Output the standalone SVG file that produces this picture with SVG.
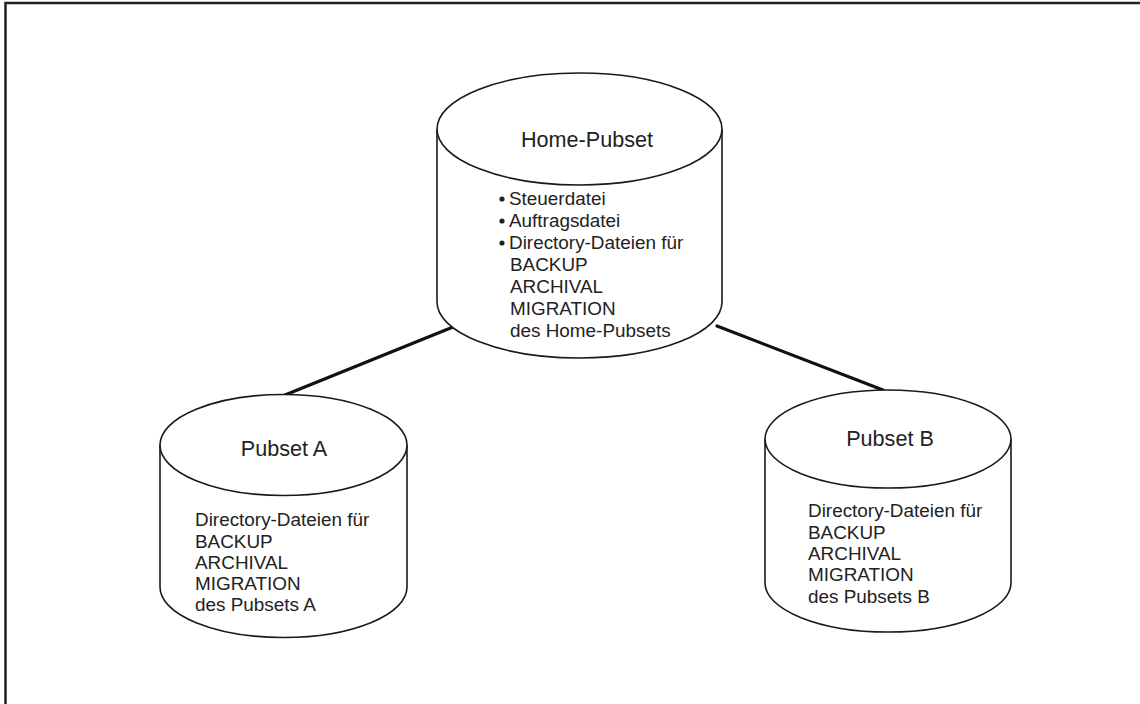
<svg xmlns="http://www.w3.org/2000/svg" width="1140" height="704" viewBox="0 0 1140 704">
  <style>
    .frame { fill: #fff; stroke: #222; stroke-width: 2.5; }
    .disk { fill: #fff; stroke: #1a1a1a; stroke-width: 1.6; }
    .link { stroke: #111; stroke-width: 3.2; stroke-linecap: round; fill: none; }
    .title { font-family: "Liberation Sans", Arial, sans-serif; font-size: 21.6px; fill: #222; text-anchor: middle; }
    .body { font-family: "Liberation Sans", Arial, sans-serif; font-size: 18.9px; fill: #222; }
  </style>

  <rect width="1140" height="704" fill="#fff"/>
  <!-- page frame; right and bottom edges lie outside the visible area -->
  <rect class="frame" x="5.5" y="3" width="1200" height="800"/>

  <g id="connectors">
    <line class="link" x1="453" y1="327" x2="285" y2="395"/>
    <line class="link" x1="717" y1="326" x2="883" y2="390"/>
  </g>

  <g id="home-pubset">
    <path class="disk" d="M437,129 L437,302 A142.5,56 0 0 0 722,302 L722,129"/>
    <ellipse class="disk" cx="579.5" cy="129" rx="142.5" ry="56"/>
    <text class="title" x="587" y="147">Home-Pubset</text>
    <g class="body">
      <circle cx="502" cy="199" r="2.6" fill="#222"/>
      <circle cx="502" cy="221" r="2.6" fill="#222"/>
      <circle cx="502" cy="243" r="2.6" fill="#222"/>
      <text x="509" y="205">Steuerdatei</text>
      <text x="509" y="227">Auftragsdatei</text>
      <text x="509" y="249">Directory-Dateien für</text>
      <text x="510" y="271">BACKUP</text>
      <text x="510" y="293">ARCHIVAL</text>
      <text x="510" y="315">MIGRATION</text>
      <text x="510" y="337">des Home-Pubsets</text>
    </g>
  </g>

  <g id="pubset-a">
    <path class="disk" d="M160,445 L160,587 A123.5,50.5 0 0 0 407,587 L407,445"/>
    <ellipse class="disk" cx="283.5" cy="445" rx="123.5" ry="50.5"/>
    <text class="title" x="284" y="456">Pubset A</text>
    <g class="body">
      <text x="195" y="526">Directory-Dateien für</text>
      <text x="195" y="548">BACKUP</text>
      <text x="195" y="569">ARCHIVAL</text>
      <text x="195" y="590">MIGRATION</text>
      <text x="195" y="611">des Pubsets A</text>
    </g>
  </g>

  <g id="pubset-b">
    <path class="disk" d="M765,439 L765,583 A123,49 0 0 0 1011,583 L1011,439"/>
    <ellipse class="disk" cx="888" cy="439" rx="123" ry="49"/>
    <text class="title" x="890" y="446">Pubset B</text>
    <g class="body">
      <text x="808" y="517">Directory-Dateien für</text>
      <text x="808" y="539">BACKUP</text>
      <text x="808" y="560">ARCHIVAL</text>
      <text x="808" y="581">MIGRATION</text>
      <text x="808" y="603">des Pubsets B</text>
    </g>
  </g>
</svg>
